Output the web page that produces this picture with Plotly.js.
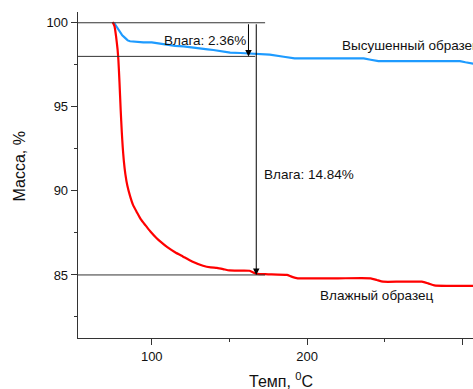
<!DOCTYPE html>
<html>
<head>
<meta charset="utf-8">
<script src="https://cdn.plot.ly/plotly-3.0.1.min.js"></script>
<style>html,body{margin:0;padding:0;overflow:hidden;background:#fff;}</style>
</head>
<body>
<div id="chart" style="width:473px;height:389px;"></div>
<script>
// Wet sample (Влажный образец)
const wetT = [74.8, 76, 77, 78, 78.5, 79.2, 80, 80.7, 81.3, 82, 83, 84.3, 86, 88, 90.3, 93, 96, 99, 103, 106, 110, 115, 120, 126, 133, 138, 142, 146, 150, 157, 163, 166, 168, 175, 187, 190, 194, 200, 220, 241, 245, 249, 260, 274, 278, 282, 290, 307];
const wetM = [100.05, 99.8, 99.2, 98.4, 97.8, 96.5, 94.8, 93.5, 92.6, 91.8, 91.0, 90.3, 89.7, 89.15, 88.75, 88.3, 87.95, 87.6, 87.2, 86.95, 86.65, 86.35, 86.1, 85.8, 85.55, 85.45, 85.42, 85.35, 85.27, 85.26, 85.25, 85.12, 85.06, 85.04, 85.0, 84.9, 84.8, 84.8, 84.8, 84.8, 84.7, 84.6, 84.6, 84.6, 84.5, 84.38, 84.35, 84.35];
// Dried sample (Высушенный образец)
const dryT = [75.7, 77, 79, 81, 82.8, 84.5, 86, 90, 94.6, 100, 105, 109.7, 115, 120.4, 126, 131, 136, 139.7, 145, 150.5, 157, 162, 170, 176, 185, 188, 192, 210, 236.5, 241, 246, 260, 280, 298.5, 302, 307];
const dryM = [100, 99.8, 99.5, 99.25, 99.1, 98.95, 98.9, 98.85, 98.83, 98.83, 98.75, 98.66, 98.62, 98.6, 98.55, 98.5, 98.42, 98.38, 98.3, 98.22, 98.2, 98.18, 98.14, 98.1, 97.98, 97.93, 97.88, 97.88, 97.88, 97.8, 97.72, 97.72, 97.72, 97.72, 97.65, 97.57];

// Annotation levels
const levelTop = 100;
const levelDry = 98.0;
const levelWet = 85.0;
const guideEnd = [173, 166.6, 173];       // end temperatures of horizontal guides (top, dry, wet)
const arrowT = [162.3, 167.3];            // temperatures of the arrows (dry, wet)
const labels = ["Влага: 2.36%", "Влага: 14.84%", "Высушенный образец", "Влажный образец"];
const labelT = [106.5, 171.0, 221.4, 206.8];
const labelM = [98.97, 90.95, 98.67, 83.75];

const xTicks = [100, 200, 300];
const yTicks = [85, 90, 95, 100];

const lineColor = '#333333';
const font = 'Arial, "Liberation Sans", sans-serif';

const traces = [
  {x: dryT, y: dryM, type: 'scatter', mode: 'lines', line: {color: '#1E9BFF', width: 2.2}, showlegend: false},
  {x: wetT, y: wetM, type: 'scatter', mode: 'lines', line: {color: '#FF0000', width: 2.2, shape: 'spline', smoothing: 0.5}, showlegend: false}
];

const shapes = [];
[[levelTop, guideEnd[0]], [levelDry, guideEnd[1]], [levelWet, guideEnd[2]]].forEach(([lv, xe]) => {
  shapes.push({type: 'line', xref: 'x', yref: 'y', x0: 52.5, x1: xe, y0: lv, y1: lv, line: {color: lineColor, width: 1}});
});

const annotations = [
  {x: arrowT[0], y: levelDry, ax: arrowT[0], ay: levelTop, xref: 'x', yref: 'y', axref: 'x', ayref: 'y', showarrow: true, arrowhead: 2, arrowsize: 1.3, arrowwidth: 1, arrowcolor: '#000', text: ''},
  {x: arrowT[1], y: levelWet, ax: arrowT[1], ay: levelTop, xref: 'x', yref: 'y', axref: 'x', ayref: 'y', showarrow: true, arrowhead: 2, arrowsize: 1.3, arrowwidth: 1, arrowcolor: '#000', text: ''},
];
labels.forEach((t, i) => {
  annotations.push({x: labelT[i], y: labelM[i], xref: 'x', yref: 'y', text: t, showarrow: false, xanchor: 'left', yanchor: 'middle', font: {family: font, size: 13.5, color: '#111'}});
});
annotations.push({xref: 'paper', yref: 'paper', x: 0.514, y: -0.13, text: 'Темп, <sup>0</sup>C', showarrow: false, xanchor: 'center', yanchor: 'middle', font: {family: font, size: 16, color: '#111'}});
annotations.push({xref: 'paper', yref: 'paper', x: -0.147, y: 0.526, text: 'Масса, %', textangle: -90, showarrow: false, xanchor: 'center', yanchor: 'middle', font: {family: font, size: 16, color: '#111'}});

const layout = {
  width: 473, height: 389,
  margin: {l: 78, r: 0, t: 12, b: 51, pad: 0},
  paper_bgcolor: '#fff', plot_bgcolor: '#fff',
  font: {family: font, size: 13, color: '#111'},
  xaxis: {
    range: [52.5, 306.9], tickvals: xTicks, ticktext: xTicks.map(String),
    ticks: 'outside', ticklen: 6, tickwidth: 1, tickcolor: lineColor,
    showline: true, linecolor: lineColor, linewidth: 1.3, showgrid: false, zeroline: false,
    tickfont: {family: font, size: 13, color: '#111'},
    minor: {tickvals: [150, 250], ticks: 'outside', ticklen: 3, tickcolor: lineColor, showgrid: false}
  },
  yaxis: {
    range: [81.25, 100.64], tickvals: yTicks, ticktext: yTicks.map(String),
    ticks: 'outside', ticklen: 6, tickwidth: 1, tickcolor: lineColor,
    showline: true, linecolor: lineColor, linewidth: 1.3, showgrid: false, zeroline: false,
    tickfont: {family: font, size: 13, color: '#111'},
    minor: {tickvals: [82.5, 87.5, 92.5, 97.5], ticks: 'outside', ticklen: 3, tickcolor: lineColor, showgrid: false}
  },
  shapes: shapes,
  annotations: annotations,
  showlegend: false
};

Plotly.newPlot('chart', traces, layout, {displayModeBar: false, staticPlot: true});
</script>
</body>
</html>
